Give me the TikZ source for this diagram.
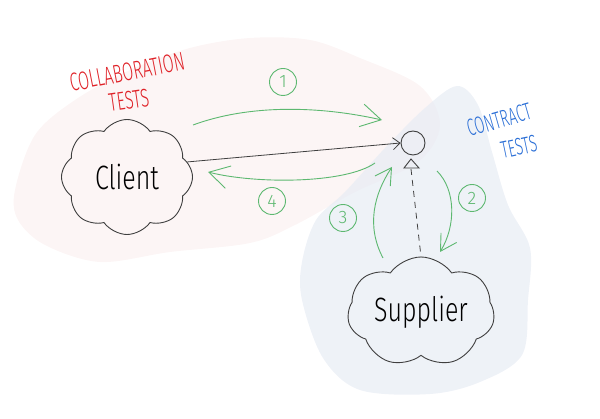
\documentclass[tikz,border=0pt]{standalone}
\usepackage{fontspec,graphicx}
\setmainfont{Fira Sans}[UprightFont=* Light]
\usetikzlibrary{shapes.symbols,arrows.meta}
\tikzset{>={Straight Barb[length=7pt,width=12pt]}}

\definecolor{sketchgreen}{HTML}{5DB870}
\definecolor{sketchred}{HTML}{DF2228}
\definecolor{sketchblue}{HTML}{2B6FD6}
\definecolor{sketchgrey}{HTML}{3F3F3F}
\definecolor{blobpink}{HTML}{FCF5F5}
\definecolor{blobblue}{HTML}{E7ECF4}

\tikzset{
  sketchcloud/.style={cloud, cloud puffs=8, cloud puff arc=110, cloud ignores aspect,
    draw=sketchgrey, line width=0.9pt, inner sep=0pt, font=\fontsize{25}{25}\selectfont},
  flow/.style={sketchgreen, line width=0.9pt,
    -{Straight Barb[length=#1,width=1.15*#1]}},
  flow/.default=16pt,
  stepnum/.style={circle, draw=sketchgreen, text=sketchgreen, line width=0.9pt,
    minimum size=27pt, inner sep=0pt, font=\fontsize{18}{18}\selectfont},
  tag/.style={font=\fontsize{16}{16}\selectfont, inner sep=0pt}
}

\begin{document}
\begin{tikzpicture}[x=1pt,y=-1pt]
  \useasboundingbox (0,0) rectangle (600,419);
  % background blobs
  \fill[blobpink] plot[smooth cycle, tension=0.55] coordinates {
    (15,190) (35,135) (75,100) (130,70) (190,48) (250,38) (310,40) (360,58)
    (420,86) (440,125) (418,162) (355,192) (295,225) (250,243) (170,252)
    (100,262) (45,245) (18,220)};
  \fill[blobblue, opacity=0.7] plot[smooth cycle, tension=0.55] coordinates {
    (457,86) (478,105) (492,152) (508,205) (530,248) (528,300) (522,355)
    (480,382) (430,394) (360,390) (323,358) (302,300) (302,262) (316,220)
    (345,192) (385,148) (425,108)};

  % labels
  \node[tag, sketchred, rotate=11] (collab) at (127,72) {\scalebox{1}[1.6]{COLLABORATION}};
  \node[tag, sketchred, rotate=8] (collabtests) at (129,100) {\scalebox{1}[1.6]{TESTS}};
  \node[tag, sketchblue, rotate=16] (contract) at (499,120) {\scalebox{0.9}[1.5]{CONTRACT}};
  \node[tag, sketchblue, rotate=12] (contracttests) at (519,147) {\scalebox{0.9}[1.5]{TESTS}};

  % parties
  \node[sketchcloud, minimum width=131pt, minimum height=115pt] (client) at (127,177)
    {\scalebox{1}[1.35]{Client}};
  \node[sketchcloud, cloud puffs=7, minimum width=147pt, minimum height=110pt] (supplier) at (421,312)
    {\scalebox{1}[1.35]{Supplier}};

  % interface
  \node[circle, draw=sketchgrey, line width=0.9pt, minimum size=24pt, inner sep=0pt] (iface) at (413,143) {};
  \draw[sketchgrey, line width=0.9pt] (404,168) -- (411,159) -- (419,168) -- cycle;
  \coordinate (tri) at (411,169);
  \draw[sketchgrey, line width=0.8pt, ->] (client.14) -- (iface.west);
  \draw[sketchgrey, line width=0.8pt, dashed, dash pattern=on 6pt off 5pt] (tri) -- (supplier.north);

  % interactions
  \coordinate (oneA) at (193,125);  \coordinate (oneB) at (382,120);
  \coordinate (fourA) at (375,163); \coordinate (fourB) at (208,172);
  \coordinate (threeA) at (383,258); \coordinate (threeB) at (392,167);
  \coordinate (twoA) at (437,171);  \coordinate (twoB) at (440,252);
  \draw[flow=20pt] (oneA) .. controls (250,104) and (320,106) .. (oneB);
  \draw[flow=20pt] (fourA) .. controls (345,184) and (255,184) .. (fourB);
  \draw[flow] (threeA) .. controls (366,226) and (374,194) .. (threeB);
  \draw[flow] (twoA) .. controls (456,190) and (456,226) .. (twoB);

  \node[stepnum] (num1) at (283,82) {1};
  \node[stepnum] (num2) at (472,198) {2};
  \node[stepnum] (num3) at (343,218) {3};
  \node[stepnum] (num4) at (272,201) {4};
\end{tikzpicture}
\end{document}
